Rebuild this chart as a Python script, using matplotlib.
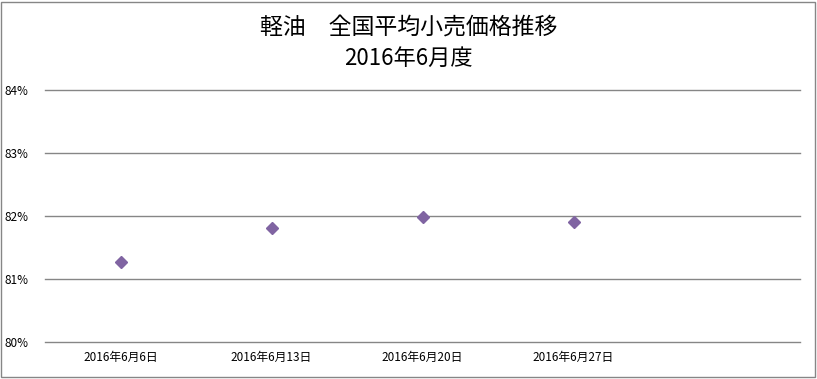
import matplotlib.pyplot as plt
from matplotlib.patches import Rectangle
from matplotlib.ticker import FuncFormatter

plt.rcParams['font.family'] = ['Noto Sans CJK JP', 'DejaVu Sans']

dates = ['2016年6月6日', '2016年6月13日', '2016年6月20日', '2016年6月27日', '']
values = [81.28, 81.82, 81.98, 81.90]
title_lines = ['軽油　全国平均小売価格推移', '2016年6月度']

fig = plt.figure(figsize=(8.17, 3.79), dpi=100)
ax = fig.add_axes([45 / 817, 36.7 / 379, 755 / 817, 252.3 / 379])

x = range(len(values))
ax.plot(x, values, linestyle='none', marker='D', ms=6, color='#8064A2', zorder=3)

ax.set_xlim(-0.5, len(dates) - 0.5)
ax.set_ylim(80, 84)
ax.set_yticks([80, 81, 82, 83, 84])
ax.yaxis.set_major_formatter(FuncFormatter(lambda v, p: f'{v:.0f}%'))
ax.set_xticks(range(len(dates)))
ax.set_xticklabels(dates)
ax.tick_params(axis='both', length=0, labelsize=8.5, colors='black')
ax.tick_params(axis='y', pad=12)
ax.tick_params(axis='x', pad=6)
ax.grid(axis='y', color='#868686', linewidth=1)
for gl in ax.get_ygridlines():
    gl.set_clip_on(False)
ax.set_axisbelow(True)
for s in ax.spines.values():
    s.set_visible(False)

fig.text(0.5, 1 - 27 / 379, title_lines[0], ha='center', va='center', fontsize=16.5)
fig.text(0.5, 1 - 58 / 379, title_lines[1], ha='center', va='center', fontsize=16)

# outer frame
fig.patches.append(Rectangle((1 / 817, 2 / 379), 814 / 817, 375 / 379,
                             transform=fig.transFigure, fill=False,
                             edgecolor='#868686', linewidth=1))

fig.savefig('out.png', dpi=100)
